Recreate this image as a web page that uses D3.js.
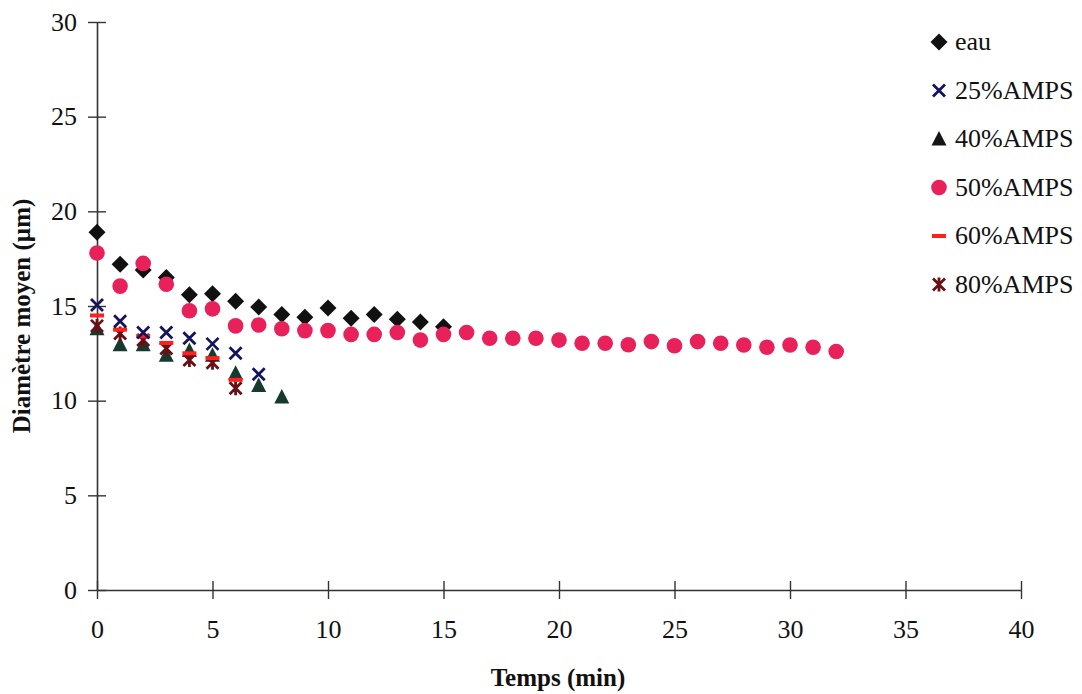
<!DOCTYPE html>
<html><head><meta charset="utf-8">
<script src="https://cdn.jsdelivr.net/npm/d3@7"></script>
<style>body{margin:0;background:#fff}svg{display:block}</style>
</head><body><svg id="c" width="1082" height="694"></svg>
<script>
const xTicks = [0,5,10,15,20,25,30,35,40];
const yTicks = [0,5,10,15,20,25,30];
const seriesNames = ["eau","25%AMPS","40%AMPS","50%AMPS","60%AMPS","80%AMPS"];
const tEau = [0,1,2,3,4,5,6,7,8,9,10,11,12,13,14,15];
const eau = [18.9,17.2,16.9,16.5,15.6,15.65,15.25,14.95,14.55,14.4,14.9,14.35,14.55,14.3,14.15,13.9];
const t25 = [0,1,2,3,4,5,6,7];
const amps25 = [15.05,14.2,13.6,13.6,13.3,13.0,12.5,11.4];
const t40 = [0,1,2,3,4,5,6,7,8];
const amps40 = [13.8,12.95,12.95,12.4,12.65,12.4,11.45,10.8,10.2];
const t50 = [0,1,2,3,4,5,6,7,8,9,10,11,12,13,14,15,16,17,18,19,20,21,22,23,24,25,26,27,28,29,30,31,32];
const amps50 = [17.8,16.05,17.25,16.15,14.75,14.85,13.95,14.0,13.8,13.7,13.7,13.5,13.5,13.6,13.2,13.5,13.6,13.3,13.3,13.3,13.2,13.03,13.03,12.95,13.12,12.9,13.12,13.03,12.94,12.82,12.94,12.82,12.6];
const t60 = [0,1,2,3,4,5,6];
const amps60 = [14.5,13.75,13.4,13.05,12.5,12.25,11.1];
const t80 = [0,1,2,3,4,5,6];
const amps80 = [13.95,13.55,13.2,12.75,12.15,12.0,10.65];

const svg = d3.select("#c");
const x = d3.scaleLinear().domain([0,40]).range([97,1021]);
const y = d3.scaleLinear().domain([0,30]).range([590,22]);
const font = "'Liberation Serif','Times New Roman',serif";

// axes
const xa = svg.append("g").attr("transform","translate(0,590)")
  .call(d3.axisBottom(x).tickValues(xTicks).tickSize(0).tickPadding(30).tickFormat(d3.format("d")));
xa.select(".domain").attr("stroke","#333").attr("stroke-width",1.6);
xa.selectAll(".tick text").attr("font-family",font).attr("font-size",26).attr("fill","#111");
xa.selectAll(".tick").append("line").attr("y1",-9).attr("y2",9).attr("stroke","#333").attr("stroke-width",1.4);

const ya = svg.append("g").attr("transform","translate(97,0)")
  .call(d3.axisLeft(y).tickValues(yTicks).tickSize(0).tickPadding(20).tickFormat(d3.format("d")));
ya.select(".domain").attr("stroke","#333").attr("stroke-width",1.6);
ya.selectAll(".tick text").attr("font-family",font).attr("font-size",26).attr("fill","#111");
ya.selectAll(".tick").append("line").attr("x1",-9).attr("x2",9).attr("stroke","#333").attr("stroke-width",1.4);

svg.append("text").attr("x",558).attr("y",686).attr("text-anchor","middle")
  .attr("font-family",font).attr("font-weight","bold").attr("font-size",25).attr("fill","#111").text("Temps (min)");
svg.append("text").attr("transform","translate(30,316) rotate(-90)").attr("text-anchor","middle")
  .attr("font-family",font).attr("font-weight","bold").attr("font-size",25).attr("fill","#111").text("Diamètre moyen (µm)");

// marker drawers
const styles = {
  "eau": {color:"#111", draw:(g,c)=>g.append("path").attr("d","M0,-8.5L8.5,0L0,8.5L-8.5,0Z").attr("fill",c)},
  "25%AMPS": {color:"#14145e", draw:(g,c)=>g.append("path").attr("d","M-6,-6L6,6M-6,6L6,-6").attr("stroke",c).attr("stroke-width",2.8).attr("fill","none")},
  "40%AMPS": {color:"#163a2e", draw:(g,c)=>g.append("path").attr("d","M0,-8L7.5,6.5L-7.5,6.5Z").attr("fill",c)},
  "50%AMPS": {color:"#e8215a", draw:(g,c)=>g.append("circle").attr("r",7.8).attr("fill",c)},
  "60%AMPS": {color:"#ff1f1f", draw:(g,c)=>g.append("rect").attr("x",-7).attr("y",-2).attr("width",14).attr("height",4).attr("fill",c)},
  "80%AMPS": {color:"#6a0e16", draw:(g,c)=>g.append("path").attr("d","M-6,-6L6,6M-6,6L6,-6M0,-7L0,7").attr("stroke",c).attr("stroke-width",2.8).attr("fill","none")}
};
const data = {
  "eau":[tEau,eau],"25%AMPS":[t25,amps25],"40%AMPS":[t40,amps40],
  "50%AMPS":[t50,amps50],"60%AMPS":[t60,amps60],"80%AMPS":[t80,amps80]
};
const order = ["eau","50%AMPS","40%AMPS","80%AMPS","60%AMPS","25%AMPS"];
order.forEach(name=>{
  const [ts,vs]=data[name]; const st=styles[name];
  const g=svg.append("g");
  ts.forEach((t,i)=>{
    const m=g.append("g").attr("transform",`translate(${x(t)},${y(vs[i])})`);
    st.draw(m,st.color);
  });
});

// legend
const legendColor = {"40%AMPS":"#151515"};
const lg = svg.append("g");
seriesNames.forEach((name,i)=>{
  const yy = 42 + i*48.5;
  const m = lg.append("g").attr("transform",`translate(939,${yy})`);
  styles[name].draw(m,legendColor[name]||styles[name].color);
  lg.append("text").attr("x",955).attr("y",yy+8).attr("font-family",font).attr("font-size",26).attr("fill","#111").text(name);
});
</script></body></html>
